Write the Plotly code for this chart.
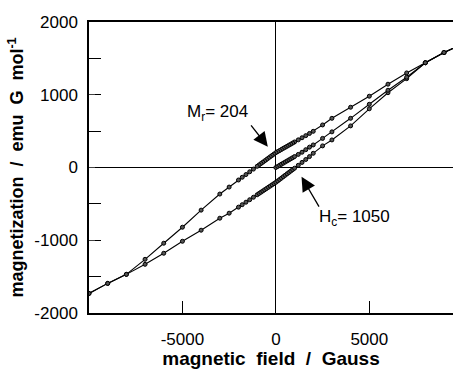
import plotly.graph_objects as go

# Descending branch (from +H to -H)
H_upper = [10000, 9000, 8000, 7000, 6000, 5000, 4000, 3000, 2500, 2000, 1800, 1600, 1400, 1200,
           1000, 900, 800, 700, 600, 500, 400, 300, 200, 100, 0, -100, -200, -300, -400, -500,
           -600, -700, -800, -900, -1000, -1200, -1400, -1600, -1800, -2000, -2500, -3000,
           -4000, -5000, -6000, -7000, -8000, -9000, -10000]
M_upper = [1700, 1580, 1440, 1300, 1145, 980, 828, 676, 585, 497, 468, 438, 409, 380,
           351, 336, 321, 307, 292, 277, 263, 248, 233, 219, 204, 185, 166, 148, 129, 110,
           91, 72, 54, 35, 16, -22, -59, -97, -134, -172, -269, -365,
           -586, -821, -1041, -1262, -1469, -1593, -1731]

# Ascending branch (from -H to +H)
H_lower = [-10000, -9000, -8000, -7000, -6000, -5000, -4000, -3000, -2500, -2000, -1800, -1600,
           -1400, -1200, -1000, -900, -800, -700, -600, -500, -400, -300, -200, -100, 0, 100,
           200, 300, 400, 500, 600, 700, 800, 900, 1000, 1200, 1400, 1600, 1800, 2000, 2500,
           3000, 4000, 5000, 6000, 7000, 8000, 9000, 10000]
M_lower = [-1731, -1593, -1469, -1331, -1179, -1014, -862, -697, -628, -545, -511, -477,
           -443, -409, -375, -357, -340, -323, -306, -289, -272, -255, -238, -221, -204, -185,
           -165, -146, -126, -107, -87, -68, -49, -29, -10, 30, 70, 110, 150, 195, 297,
           379, 572, 807, 1028, 1221, 1440, 1580, 1700]

# Virgin curve
H_virgin = [0, 100, 200, 300, 400, 500, 600, 700, 800, 900, 1000, 1200, 1400, 1600, 1800, 2000,
            2500, 3000, 4000, 5000, 6000, 7000, 8000, 9000, 10000]
M_virgin = [0, 15, 30, 45, 60, 75, 90, 105, 120, 135, 150, 180, 210, 245, 280, 310,
            400, 490, 676, 869, 1062, 1241, 1440, 1580, 1700]

x_ticks = [-5000, 0, 5000]
y_ticks = [-2000, -1000, 0, 1000, 2000]

FONT = "Liberation Sans, Arial, Helvetica, sans-serif"

fig = go.Figure()
for hx, my in [(H_upper, M_upper), (H_lower, M_lower), (H_virgin, M_virgin)]:
    fig.add_trace(go.Scatter(
        x=hx, y=my, mode="lines+markers",
        line=dict(color="black", width=1.1),
        marker=dict(symbol="circle", size=4, color="#555",
                    line=dict(color="black", width=1)),
        showlegend=False, cliponaxis=True))

# text annotations
fig.add_annotation(x=-3150, y=752, xref="x", yref="y", text="M<sub>r</sub>= 204",
                   showarrow=False, font=dict(family=FONT, size=17, color="black"))
fig.add_annotation(x=4231, y=-700, xref="x", yref="y", text="H<sub>c</sub>= 1050",
                   showarrow=False, font=dict(family=FONT, size=17, color="black"))
# arrows
fig.add_annotation(x=-430, y=286, ax=-1390, ay=600, xref="x", yref="y", axref="x", ayref="y",
                   text="", showarrow=True, arrowhead=2, arrowsize=2.2, arrowwidth=1.3,
                   arrowcolor="black")
fig.add_annotation(x=1376, y=-127, ax=2356, ay=-559, xref="x", yref="y", axref="x", ayref="y",
                   text="", showarrow=True, arrowhead=2, arrowsize=2.2, arrowwidth=1.3,
                   arrowcolor="black")

fig.update_layout(
    width=453, height=369,
    margin=dict(l=89, r=0, t=22, b=56),
    paper_bgcolor="white", plot_bgcolor="white",
    font=dict(family=FONT, size=17, color="black"),
    xaxis=dict(
        range=[-10000, 9480], tickvals=x_ticks, ticktext=[str(v) for v in x_ticks],
        ticks="inside", ticklen=12, tickwidth=1, tickcolor="black",
        showline=True, linecolor="black", linewidth=1.5, mirror=True,
        showgrid=False, zeroline=True, zerolinecolor="black", zerolinewidth=1,
        ticklabelstandoff=10,
        title=dict(text="<b>magnetic&nbsp;&nbsp;field&nbsp;&nbsp;/&nbsp;&nbsp;Gauss</b>",
                   font=dict(family=FONT, size=19), standoff=4),
    ),
    yaxis=dict(
        range=[-2000, 2000], tickvals=y_ticks, ticktext=[str(v) for v in y_ticks],
        ticks="inside", ticklen=6, tickwidth=1, tickcolor="#444",
        minor=dict(ticks="inside", ticklen=12, tickwidth=1, tickcolor="black", dtick=500,
                   showgrid=False),
        showline=True, linecolor="black", linewidth=1.5, mirror=False,
        showgrid=False, zeroline=True, zerolinecolor="black", zerolinewidth=1.3,
        ticklabelstandoff=6,
        title=dict(text="<b>magnetization&nbsp;&nbsp;/&nbsp;&nbsp;emu&nbsp;&nbsp;G&nbsp;&nbsp;mol<sup>-1</sup></b>",
                   font=dict(family=FONT, size=18), standoff=6),
    ),
)

fig.write_html("out.html")
